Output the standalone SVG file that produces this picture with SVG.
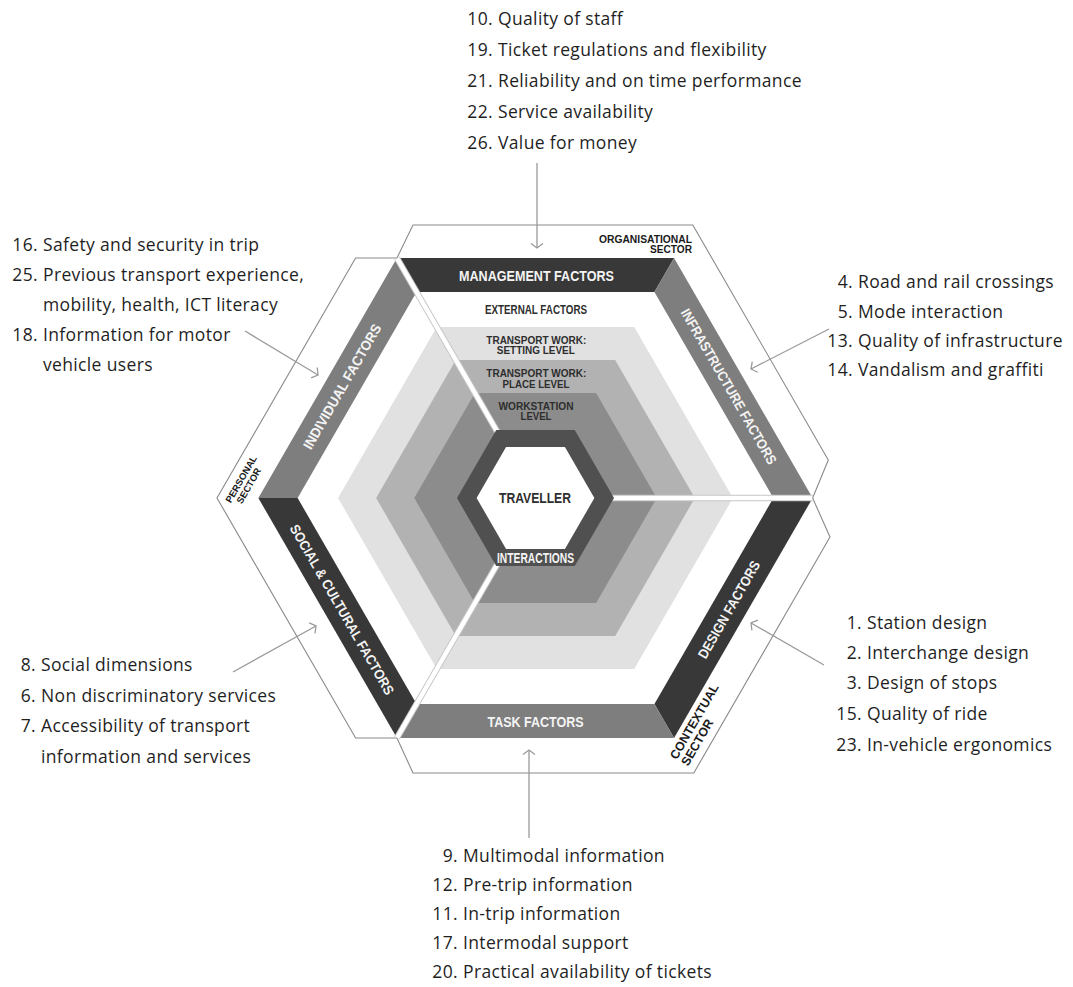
<svg xmlns="http://www.w3.org/2000/svg" width="1073" height="987" viewBox="0 0 1073 987">
<style>
.dark{fill:#383838}
.mid{fill:#7e7e7e}
.lbl{font-family:"Liberation Sans",Arial,sans-serif;font-weight:bold;fill:#f4f4f4;font-size:14px}
.in{font-family:"Liberation Sans",Arial,sans-serif;font-weight:bold;fill:#2e2e2e;text-anchor:middle}
.sec{font-family:"Liberation Sans",Arial,sans-serif;font-weight:bold;fill:#1a1a1a}
.outl{fill:none;stroke:#8a8a8a;stroke-width:1.1}
.lst{font-family:"Open Sans","Liberation Sans",sans-serif;font-size:17.5px;letter-spacing:0.35px;fill:#1f1f1f}
.num{text-anchor:end}
.arr{fill:none;stroke:#9a9a9a;stroke-width:1.3;marker-end:url(#chev)}
</style>
<defs>
<marker id="chev" markerUnits="userSpaceOnUse" markerWidth="16" markerHeight="16" viewBox="-8 -8 16 16" refX="0" refY="0" orient="auto" overflow="visible">
<path d="M-4.5,-6 L0,0 L-4.5,6" fill="none" stroke="#9a9a9a" stroke-width="1.3"/>
</marker>
</defs>
<rect width="1073" height="987" fill="#ffffff"/>

<!-- inner level rings -->
<g id="setting-level"><polygon points="732.95,498 634.23,669 436.77,669 338.05,498 436.77,327 634.23,327" fill="#e1e1e1"/></g>
<g id="place-level"><polygon points="694.85,498 615.17,636 455.83,636 376.15,498 455.83,360 615.17,360" fill="#b2b2b2"/></g>
<g id="workstation-level"><polygon points="656.74,498 596.12,603 474.88,603 414.26,498 474.88,393 596.12,393" fill="#8c8c8c"/></g>

<!-- factor bands -->
<g id="management-factors">
<polygon class="dark" points="396.94,258 674.06,258 654.43,292 416.57,292"/>
<text class="lbl" x="536.5" y="280.5" text-anchor="middle" textLength="155" lengthAdjust="spacingAndGlyphs">MANAGEMENT FACTORS</text>
</g>
<g id="infrastructure-factors">
<polygon class="mid" points="674.06,258 812.63,498 773.37,498 654.43,292"/>
<text class="lbl" transform="translate(728.9,386.5) rotate(60)" x="0" y="5" text-anchor="middle" textLength="177" lengthAdjust="spacingAndGlyphs">INFRASTRUCTURE FACTORS</text>
</g>
<g id="design-factors">
<polygon class="dark" points="812.63,498 674.06,738 654.43,704 773.37,498"/>
<text class="lbl" transform="translate(728.9,609.5) rotate(-60)" x="0" y="5" text-anchor="middle" textLength="110" lengthAdjust="spacingAndGlyphs">DESIGN FACTORS</text>
</g>
<g id="task-factors">
<polygon class="mid" points="674.06,738 396.94,738 416.57,704 654.43,704"/>
<text class="lbl" x="535.5" y="726.5" text-anchor="middle" textLength="96" lengthAdjust="spacingAndGlyphs">TASK FACTORS</text>
</g>
<g id="social-cultural-factors">
<polygon class="dark" points="396.94,738 258.37,498 297.63,498 416.57,704"/>
<text class="lbl" transform="translate(342.1,609.5) rotate(60)" x="0" y="5" text-anchor="middle" textLength="194" lengthAdjust="spacingAndGlyphs">SOCIAL &amp; CULTURAL FACTORS</text>
</g>
<g id="individual-factors">
<polygon class="mid" points="258.37,498 396.94,258 416.57,292 297.63,498"/>
<text class="lbl" transform="translate(342.1,386.5) rotate(-60)" x="0" y="5" text-anchor="middle" textLength="142" lengthAdjust="spacingAndGlyphs">INDIVIDUAL FACTORS</text>
</g>

<!-- sector splits -->
<g id="splits">
<g stroke="#c6c6c6" stroke-width="6.5" fill="none">
<line x1="535.5" y1="498" x2="812.63" y2="498"/>
<line x1="535.5" y1="498" x2="396.94" y2="258"/>
<line x1="535.5" y1="498" x2="396.94" y2="738"/>
</g>
<g stroke="#ffffff" stroke-width="4.5" fill="none">
<line x1="535.5" y1="498" x2="813" y2="498"/>
<line x1="535.5" y1="498" x2="396.7" y2="257.6"/>
<line x1="535.5" y1="498" x2="396.7" y2="738.4"/>
</g>
</g>

<!-- centre -->
<g id="interactions">
<polygon points="614.02,498 574.76,566 496.24,566 456.98,498 496.24,430 574.76,430" fill="#505050"/>
<text class="lbl" x="535.5" y="563.3" text-anchor="middle" font-size="12.5" textLength="77" lengthAdjust="spacingAndGlyphs">INTERACTIONS</text>
</g>
<g id="traveller">
<polygon points="594.39,498 564.94,549 506.06,549 476.61,498 506.06,447 564.94,447" fill="#ffffff"/>
<text class="in" x="535" y="503.3" font-size="14" fill="#222" textLength="72" lengthAdjust="spacingAndGlyphs">TRAVELLER</text>
</g>

<!-- level labels -->
<g id="external-factors"><text class="in" x="536" y="314" font-size="12.5" textLength="102" lengthAdjust="spacingAndGlyphs">EXTERNAL FACTORS</text></g>
<g id="setting-label">
<text class="in" x="536.3" y="344" font-size="11.5" textLength="100" lengthAdjust="spacingAndGlyphs">TRANSPORT WORK:</text>
<text class="in" x="535.8" y="354.3" font-size="11.5" textLength="78" lengthAdjust="spacingAndGlyphs">SETTING LEVEL</text>
</g>
<g id="place-label">
<text class="in" x="536.3" y="377.3" font-size="11.5" textLength="100" lengthAdjust="spacingAndGlyphs">TRANSPORT WORK:</text>
<text class="in" x="536" y="387.7" font-size="11.5" textLength="67" lengthAdjust="spacingAndGlyphs">PLACE LEVEL</text>
</g>
<g id="workstation-label">
<text class="in" x="536" y="409.5" font-size="11.5" textLength="75" lengthAdjust="spacingAndGlyphs">WORKSTATION</text>
<text class="in" x="536" y="420" font-size="11.5" textLength="31" lengthAdjust="spacingAndGlyphs">LEVEL</text>
</g>

<!-- sector outlines -->
<g id="organisational-sector">
<path class="outl" d="M396.94,258 L413,225 L692.8,225 L828.3,460 L812.63,498"/>
<text class="sec" x="692" y="242.5" font-size="11.5" text-anchor="end" textLength="93" lengthAdjust="spacingAndGlyphs">ORGANISATIONAL</text>
<text class="sec" x="692" y="252.5" font-size="11.5" text-anchor="end" textLength="42" lengthAdjust="spacingAndGlyphs">SECTOR</text>
</g>
<g id="personal-sector">
<path class="outl" d="M396.94,258 L355.6,258 L217,498 L355.6,738 L396.94,738"/>
<g transform="translate(241,479) rotate(-60)">
<text class="sec" x="0" y="3.5" font-size="9.5" text-anchor="middle">PERSONAL</text>
<text class="sec" x="-2" y="13.5" font-size="9.5" text-anchor="middle">SECTOR</text>
</g>
</g>
<g id="contextual-sector">
<path class="outl" d="M812.63,498 L830,537 L693.8,773 L413,773 L396.94,738"/>
<g transform="translate(673,758) rotate(-60)">
<text class="sec" x="0" y="4.4" font-size="12.4">CONTEXTUAL</text>
<text class="sec" x="0" y="17.4" font-size="12.4">SECTOR</text>
</g>
</g>

<!-- connectors -->
<g id="connectors">
<line class="arr" x1="537" y1="163" x2="537" y2="248"/>
<line class="arr" x1="245" y1="331" x2="318" y2="375"/>
<line class="arr" x1="829" y1="329" x2="751" y2="369"/>
<line class="arr" x1="233" y1="672" x2="316" y2="626"/>
<line class="arr" x1="824" y1="665" x2="751" y2="623"/>
<line class="arr" x1="529" y1="838" x2="529" y2="750"/>
</g>

<!-- lists -->
<g id="list-organisational" class="lst">
<text class="num" x="493" y="25">10.</text><text x="498" y="25">Quality of staff</text>
<text class="num" x="493" y="56">19.</text><text x="498" y="56">Ticket regulations and flexibility</text>
<text class="num" x="493" y="87">21.</text><text x="498" y="87">Reliability and on time performance</text>
<text class="num" x="493" y="118">22.</text><text x="498" y="118">Service availability</text>
<text class="num" x="493" y="149">26.</text><text x="498" y="149">Value for money</text>
</g>
<g id="list-individual" class="lst">
<text class="num" x="38" y="251">16.</text><text x="43" y="251">Safety and security in trip</text>
<text class="num" x="38" y="281">25.</text><text x="43" y="281">Previous transport experience,</text>
<text x="43" y="311">mobility, health, ICT literacy</text>
<text class="num" x="38" y="341">18.</text><text x="43" y="341">Information for motor</text>
<text x="43" y="371">vehicle users</text>
</g>
<g id="list-infrastructure" class="lst">
<text class="num" x="853" y="288">4.</text><text x="858" y="288">Road and rail crossings</text>
<text class="num" x="853" y="318">5.</text><text x="858" y="318">Mode interaction</text>
<text class="num" x="853" y="347">13.</text><text x="858" y="347">Quality of infrastructure</text>
<text class="num" x="853" y="376">14.</text><text x="858" y="376">Vandalism and graffiti</text>
</g>
<g id="list-social" class="lst">
<text class="num" x="36" y="671">8.</text><text x="41" y="671">Social dimensions</text>
<text class="num" x="36" y="701.5">6.</text><text x="41" y="701.5">Non discriminatory services</text>
<text class="num" x="36" y="732">7.</text><text x="41" y="732">Accessibility of transport</text>
<text x="41" y="762.5">information and services</text>
</g>
<g id="list-design" class="lst">
<text class="num" x="862" y="629">1.</text><text x="867" y="629">Station design</text>
<text class="num" x="862" y="659">2.</text><text x="867" y="659">Interchange design</text>
<text class="num" x="862" y="689">3.</text><text x="867" y="689">Design of stops</text>
<text class="num" x="862" y="720">15.</text><text x="867" y="720">Quality of ride</text>
<text class="num" x="862" y="751">23.</text><text x="867" y="751">In-vehicle ergonomics</text>
</g>
<g id="list-task" class="lst">
<text class="num" x="458" y="862">9.</text><text x="463" y="862">Multimodal information</text>
<text class="num" x="458" y="891">12.</text><text x="463" y="891">Pre-trip information</text>
<text class="num" x="458" y="920">11.</text><text x="463" y="920">In-trip information</text>
<text class="num" x="458" y="949">17.</text><text x="463" y="949">Intermodal support</text>
<text class="num" x="458" y="978">20.</text><text x="463" y="978">Practical availability of tickets</text>
</g>
</svg>
